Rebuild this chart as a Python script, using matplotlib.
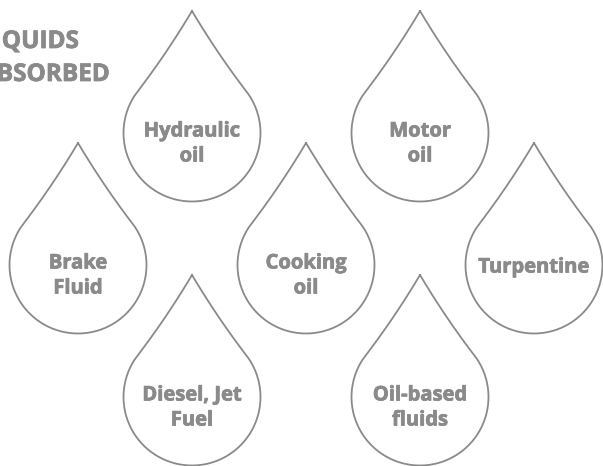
import numpy as np
import matplotlib
matplotlib.use("Agg")
import matplotlib.pyplot as plt
import matplotlib.patheffects as pe

# liquids shown in the drops
labels = ["Hydraulic\noil", "Motor\noil", "Brake\nFluid", "Cooking\noil",
          "Turpentine", "Diesel, Jet\nFuel", "Oil-based\nfluids"]
# grid slot of each drop (column, row)
cols = [1, 3, 0, 2, 4, 1, 3]
rows = [0, 0, 1, 1, 1, 2, 2]

title_lines = ["LIQUIDS", "ABSORBED"]

GRAY = "#8a8a8a"
R = 68.5       # radius of the round part, px
TIP = 122      # tip distance above circle centre, px

# heavier look for the bold text
heavy = [pe.withStroke(linewidth=0.55, foreground=GRAY)]


def drop_outline(cx, cy, r=R, d=TIP, n=200):
    a = np.arcsin(r / d)
    phi = np.pi - (np.pi / 2 - a)
    t = np.linspace(-phi, phi, n)
    xs = cx + r * np.sin(t)
    ys = cy + r * np.cos(t)
    tipx, tipy = cx, cy - d

    def side(x0, y0, x1, y1, bulge):
        s = np.linspace(0, 1, 40)
        mx, my = (x0 + x1) / 2, (y0 + y1) / 2
        nx, ny = (y1 - y0), -(x1 - x0)
        ln = np.hypot(nx, ny)
        qx, qy = mx + bulge * nx / ln, my + bulge * ny / ln
        bx = (1 - s) ** 2 * x0 + 2 * (1 - s) * s * qx + s ** 2 * x1
        by = (1 - s) ** 2 * y0 + 2 * (1 - s) * s * qy + s ** 2 * y1
        return bx, by
    lx, ly = side(tipx, tipy, xs[0], ys[0], 3)
    rx, ry = side(xs[-1], ys[-1], tipx, tipy, 3)
    return np.concatenate([lx, xs, rx]), np.concatenate([ly, ys, ry])


fig = plt.figure(figsize=(6.03, 4.66), dpi=100)
ax = fig.add_axes([0, 0, 1, 1])
ax.set_xlim(0, 603)
ax.set_ylim(466, 0)
ax.axis("off")

col_x = [78 + 114 * k for k in range(5)]
row_y = [133 + 132 * k for k in range(3)]
baselines = {1: [7.5], 2: [3.5, 28.5]}

for lab, c, r in zip(labels, cols, rows):
    cx, cy = col_x[c], row_y[r]
    X, Y = drop_outline(cx, cy)
    ax.plot(X, Y, color=GRAY, lw=1.3, solid_joinstyle="miter")
    parts = lab.split("\n")
    for line, off in zip(parts, baselines[len(parts)]):
        ax.text(cx, cy + off, line, ha="center", va="baseline",
                fontsize=14.5, fontweight="bold", family="Open Sans",
                color=GRAY, path_effects=heavy)

for line, y in zip(title_lines, [48, 81]):
    ax.text(-20, y, line, ha="left", va="baseline", fontsize=17.5,
            fontweight="bold", family="Open Sans", color=GRAY,
            path_effects=heavy)

fig.savefig("out.png", dpi=100)
